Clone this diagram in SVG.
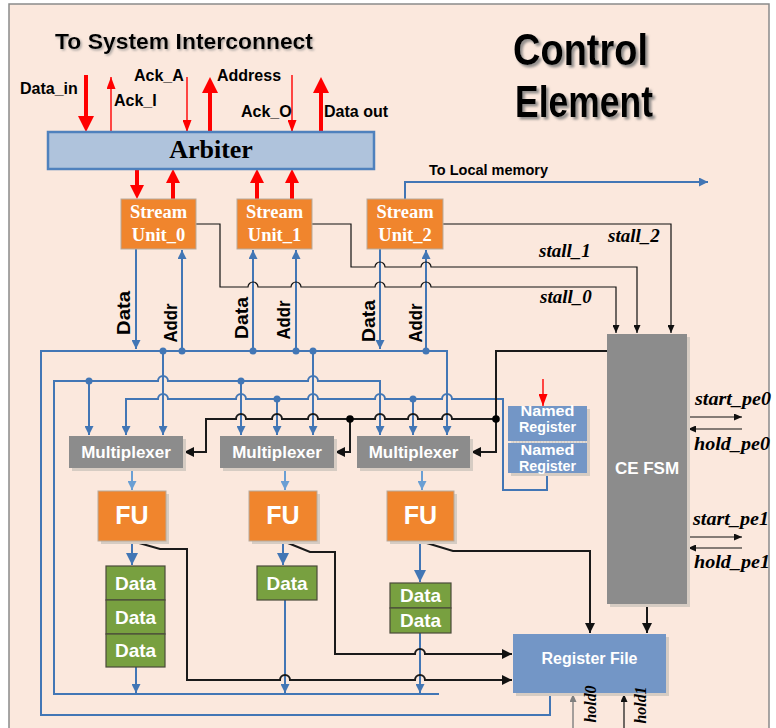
<svg xmlns="http://www.w3.org/2000/svg" width="776" height="728" viewBox="0 0 776 728">
<style>
.s{font-family:'Liberation Sans',Arial,sans-serif;font-weight:bold}
.r{font-family:'Liberation Serif','Times New Roman',serif;font-weight:bold}
.i{font-style:italic}
.w{fill:#fff}
.c{text-anchor:middle}
.bl{stroke:#4276B5;stroke-width:2;fill:none}
.lb{stroke:#6A9FD4;stroke-width:2;fill:none}
.k1{stroke:#111;stroke-width:1.2;fill:none}
.k2{stroke:#1a1a1a;stroke-width:2;fill:none}
.rt{stroke:#F00;stroke-width:4;fill:none}
.rn{stroke:#F00;stroke-width:1.4;fill:none}
.sh{fill:#D6CCC3}
.db{fill:#4276B5}
.dk{fill:#000}
.or{fill:#F0852D;stroke:#B8A99B;stroke-width:1}
.gy{fill:#8C8C8C}
.rg{fill:#7396C6}
.gr{fill:#78A040;stroke:#4A4A3A;stroke-width:1.2}
</style>
<defs>
<filter id="ds" x="-10%" y="-20%" width="125%" height="150%"><feDropShadow dx="2.5" dy="2.5" stdDeviation="1.2" flood-color="#777" flood-opacity="0.8"/></filter>
<filter id="ds2" x="-10%" y="-20%" width="125%" height="150%"><feDropShadow dx="1.5" dy="1.5" stdDeviation="0.8" flood-color="#888" flood-opacity="0.7"/></filter>
<marker id="mb" viewBox="0 0 10 10" refX="10" refY="5" markerWidth="9" markerHeight="9" markerUnits="userSpaceOnUse" orient="auto"><path d="M0,0L10,5L0,10z" fill="#4276B5"/></marker>
<marker id="mbB" viewBox="0 0 10 10" refX="10" refY="5" markerWidth="12" markerHeight="12" markerUnits="userSpaceOnUse" orient="auto"><path d="M0,0L10,5L0,10z" fill="#4276B5"/></marker>
<marker id="ml" viewBox="0 0 10 10" refX="10" refY="5" markerWidth="9" markerHeight="9" markerUnits="userSpaceOnUse" orient="auto"><path d="M0,0L10,5L0,10z" fill="#6A9FD4"/></marker>
<marker id="mk" viewBox="0 0 10 10" refX="10" refY="5" markerWidth="8" markerHeight="7" preserveAspectRatio="none" markerUnits="userSpaceOnUse" orient="auto"><path d="M0,0L10,5L0,10z" fill="#111"/></marker>
<marker id="mg" viewBox="0 0 10 10" refX="10" refY="5" markerWidth="8" markerHeight="7" preserveAspectRatio="none" markerUnits="userSpaceOnUse" orient="auto"><path d="M0,0L10,5L0,10z" fill="#7F7F7F"/></marker>
<marker id="mk2" viewBox="0 0 10 10" refX="10" refY="5" markerWidth="10" markerHeight="10" markerUnits="userSpaceOnUse" orient="auto"><path d="M0,0L10,5L0,10z" fill="#111"/></marker>
<marker id="mr" viewBox="0 0 16 16" refX="6" refY="8" markerWidth="16" markerHeight="16" markerUnits="userSpaceOnUse" orient="auto"><path d="M0,0L16,8L0,16z" fill="#F00"/></marker>
<marker id="mr2" viewBox="0 0 14 14" refX="4" refY="7" markerWidth="14" markerHeight="14" markerUnits="userSpaceOnUse" orient="auto"><path d="M0,0L14,7L0,14z" fill="#F00"/></marker>
<marker id="mrs" viewBox="0 0 10 10" refX="10" refY="5" markerWidth="12" markerHeight="9" preserveAspectRatio="none" markerUnits="userSpaceOnUse" orient="auto"><path d="M0,0L10,5L0,10z" fill="#F00"/></marker>
</defs>

<rect x="0" y="0" width="776" height="728" fill="#fff"/>
<rect x="9" y="4" width="760" height="740" fill="#FBE8DD" stroke="#8A8A8A" stroke-width="1.5"/>

<g id="title">
<text x="55" y="49" class="s" font-size="22" filter="url(#ds2)" textLength="258" lengthAdjust="spacingAndGlyphs">To System Interconnect</text>
<text x="513" y="65" class="s" font-size="44" filter="url(#ds)" textLength="135" lengthAdjust="spacingAndGlyphs">Control</text>
<text x="515" y="117" class="s" font-size="44" filter="url(#ds)" textLength="138" lengthAdjust="spacingAndGlyphs">Element</text>
</g>

<g id="connectors">
<!-- red interconnect arrows -->
<path class="rt" d="M86,75V122" marker-end="url(#mr)"/>
<path class="rt" d="M210,132V87" marker-end="url(#mr)"/>
<path class="rt" d="M321,132V87" marker-end="url(#mr)"/>
<path class="rn" d="M111,132V77" marker-end="url(#mrs)"/>
<path class="rn" d="M187,77V132" marker-end="url(#mrs)"/>
<path class="rn" d="M292,75V132" marker-end="url(#mrs)"/>
<path class="rt" d="M137,169V189" marker-end="url(#mr2)"/>
<path class="rt" d="M173,199V179" marker-end="url(#mr2)"/>
<path class="rt" d="M257,199V179" marker-end="url(#mr2)"/>
<path class="rt" d="M292,199V179" marker-end="url(#mr2)"/>
<path class="rn" d="M543,379V406" marker-end="url(#mrs)"/>

<!-- blue buses -->
<path class="bl" d="M550,693V715H41V351H447V435" marker-end="url(#mb)"/>
<path class="bl" d="M439,694H54V381H158A5,5 0 0 1 168,381H308A5,5 0 0 1 318,381H380V435" marker-end="url(#mb)"/>
<path class="bl" d="M547,473V490H503V399H452A5,5 0 0 0 442,399H385A5,5 0 0 0 375,399H318A5,5 0 0 0 308,399H246A5,5 0 0 0 236,399H168A5,5 0 0 0 158,399H126V435" marker-end="url(#mb)"/>
<path class="bl" d="M89,381V435" marker-end="url(#mb)"/>
<path class="bl" d="M163,351V435" marker-end="url(#mb)"/>
<path class="bl" d="M241,381V435" marker-end="url(#mb)"/>
<path class="bl" d="M277,399V435" marker-end="url(#mb)"/>
<path class="bl" d="M313,351V435" marker-end="url(#mb)"/>
<path class="bl" d="M413,399V435" marker-end="url(#mb)"/>
<circle class="db" cx="89" cy="381" r="3.5"/>
<circle class="db" cx="163" cy="351" r="3.5"/>
<circle class="db" cx="241" cy="381" r="3.5"/>
<circle class="db" cx="277" cy="399" r="3.5"/>
<circle class="db" cx="313" cy="351" r="3.5"/>
<circle class="db" cx="413" cy="399" r="3.5"/>

<!-- stream unit data/addr -->
<path class="bl" d="M136,249V349" marker-end="url(#mb)"/>
<path class="bl" d="M182,351V250" marker-end="url(#mb)"/>
<path class="bl" d="M253,351V250" marker-end="url(#mb)"/>
<path class="bl" d="M296,351V250" marker-end="url(#mb)"/>
<path class="bl" d="M380,249V349" marker-end="url(#mb)"/>
<path class="bl" d="M426,351V250" marker-end="url(#mb)"/>
<circle class="db" cx="182" cy="351" r="3.5"/>
<circle class="db" cx="253" cy="351" r="3.5"/>
<circle class="db" cx="296" cy="351" r="3.5"/>
<circle class="db" cx="426" cy="351" r="3.5"/>
<path class="bl" d="M405,199V182H708" marker-end="url(#mb)"/>

<!-- mux to FU, FU to data, data to loop -->
<path class="lb" d="M132,468V490" marker-end="url(#ml)"/>
<path class="lb" d="M285,468V490" marker-end="url(#ml)"/>
<path class="lb" d="M422,468V490" marker-end="url(#ml)"/>
<path class="bl" d="M132,541V565" marker-end="url(#mbB)"/>
<path class="bl" d="M283,541V565" marker-end="url(#mbB)"/>
<path class="bl" d="M420,541V582" marker-end="url(#mbB)"/>
<path class="bl" d="M136,667V693" marker-end="url(#mb)"/>
<path class="bl" d="M285,600V693" marker-end="url(#mb)"/>
<path class="bl" d="M420,633V693" marker-end="url(#mb)"/>

<!-- stall lines -->
<path class="k1" d="M443,224H671V333" marker-end="url(#mk)"/>
<path class="k1" d="M312,224H351V267H375A5,5 0 0 1 385,267H421A5,5 0 0 1 431,267H637V333" marker-end="url(#mk)"/>
<path class="k1" d="M196,224H220V287H248A5,5 0 0 1 258,287H291A5,5 0 0 1 301,287H375A5,5 0 0 1 385,287H421A5,5 0 0 1 431,287H616V333" marker-end="url(#mk)"/>

<!-- CE FSM control to multiplexers -->
<path class="k2" d="M608,351H496V452H471" marker-end="url(#mk2)"/>
<path class="k2" d="M496,419H452A5,5 0 0 0 442,419H418A5,5 0 0 0 408,419H385A5,5 0 0 0 375,419H318A5,5 0 0 0 308,419H282A5,5 0 0 0 272,419H246A5,5 0 0 0 236,419H206V452H184" marker-end="url(#mk2)"/>
<path class="k2" d="M350,419V452H335" marker-end="url(#mk2)"/>
<circle class="dk" cx="496" cy="419" r="3.8"/>
<circle class="dk" cx="350" cy="419" r="3.8"/>

<!-- FU to register file -->
<path class="k2" d="M132,541L160,549H187V680H280A5,5 0 0 1 290,680H415A5,5 0 0 1 425,680H512" marker-end="url(#mk2)"/>
<path class="k2" d="M283,541L310,552H335V654H415A5,5 0 0 1 425,654H512" marker-end="url(#mk2)"/>
<path class="k2" d="M420,541L453,551H590V633" marker-end="url(#mk2)"/>
<path class="k2" d="M647,604V633" stroke-width="2.5" marker-end="url(#mk2)"/>

<!-- CE FSM external signals -->
<path class="k1" d="M687,417H742" marker-end="url(#mk)"/>
<path class="k1" d="M742,429H688" marker-end="url(#mk)"/>
<path class="k1" d="M687,537H742" marker-end="url(#mk)"/>
<path class="k1" d="M742,548H688" marker-end="url(#mk)"/>
<path d="M573,728V694" stroke="#7F7F7F" stroke-width="1.4" marker-end="url(#mg)"/>
<path class="k1" d="M624,728V694" marker-end="url(#mk)"/>
</g>

<g id="arbiter">
<rect x="48" y="132" width="326" height="37" fill="#AFC3DC" stroke="#4F81BD" stroke-width="2.5"/>
<text x="211" y="158" class="r c" font-size="26">Arbiter</text>
</g>

<g id="stream0">
<rect class="or" x="121" y="199" width="75" height="50"/>
<text x="158.5" y="218" class="r c w" font-size="18.5">Stream</text>
<text x="158.5" y="241" class="r c w" font-size="18.5">Unit_0</text>
</g>
<g id="stream1">
<rect class="or" x="237" y="199" width="75" height="50"/>
<text x="274.5" y="218" class="r c w" font-size="18.5">Stream</text>
<text x="274.5" y="241" class="r c w" font-size="18.5">Unit_1</text>
</g>
<g id="stream2">
<rect class="or" x="367" y="199" width="76" height="50"/>
<text x="405" y="218" class="r c w" font-size="18.5">Stream</text>
<text x="405" y="241" class="r c w" font-size="18.5">Unit_2</text>
</g>

<g id="mux0">
<rect class="sh" x="72" y="439" width="114" height="32"/>
<rect class="gy" x="69" y="436" width="114" height="32"/>
<text x="126" y="458" class="s c w" font-size="17">Multiplexer</text>
</g>
<g id="mux1">
<rect class="sh" x="223" y="439" width="114" height="32"/>
<rect class="gy" x="220" y="436" width="114" height="32"/>
<text x="277" y="458" class="s c w" font-size="17">Multiplexer</text>
</g>
<g id="mux2">
<rect class="sh" x="360" y="439" width="113" height="32"/>
<rect class="gy" x="357" y="436" width="113" height="32"/>
<text x="413.5" y="458" class="s c w" font-size="17">Multiplexer</text>
</g>

<g id="named-registers">
<rect class="sh" x="511" y="409" width="79" height="67"/>
<rect class="rg" x="508" y="406" width="79" height="35"/>
<rect class="rg" x="508" y="443" width="79" height="30"/>
<line x1="508" y1="442" x2="587" y2="442" stroke="#E8E8E8" stroke-width="1.2" stroke-dasharray="2,1"/>
<text x="547.5" y="416" class="s c w" font-size="15" textLength="54" lengthAdjust="spacingAndGlyphs">Named</text>
<text x="547.5" y="432" class="s c w" font-size="15" textLength="57" lengthAdjust="spacingAndGlyphs">Register</text>
<text x="547.5" y="455" class="s c w" font-size="15" textLength="54" lengthAdjust="spacingAndGlyphs">Named</text>
<text x="547.5" y="471" class="s c w" font-size="15" textLength="57" lengthAdjust="spacingAndGlyphs">Register</text>
</g>

<g id="ce-fsm">
<rect class="sh" x="610" y="337" width="80" height="270"/>
<rect class="gy" x="607" y="334" width="80" height="270"/>
<text x="647" y="474" class="s c w" font-size="17">CE FSM</text>
</g>

<g id="fu0">
<rect class="sh" x="101" y="494" width="68" height="50"/>
<rect class="or" x="98" y="491" width="68" height="50"/>
<text x="132" y="524" class="s c w" font-size="25">FU</text>
</g>
<g id="fu1">
<rect class="sh" x="252" y="494" width="68" height="50"/>
<rect class="or" x="249" y="491" width="68" height="50"/>
<text x="283" y="524" class="s c w" font-size="25">FU</text>
</g>
<g id="fu2">
<rect class="sh" x="390" y="494" width="67" height="50"/>
<rect class="or" x="387" y="491" width="67" height="50"/>
<text x="420.5" y="524" class="s c w" font-size="25">FU</text>
</g>

<g id="data0">
<rect class="gr" x="106" y="566" width="59" height="34"/>
<rect class="gr" x="106" y="600" width="59" height="34"/>
<rect class="gr" x="106" y="634" width="59" height="33"/>
<text x="135.5" y="590" class="s c w" font-size="19">Data</text>
<text x="135.5" y="624" class="s c w" font-size="19">Data</text>
<text x="135.5" y="657" class="s c w" font-size="19">Data</text>
</g>
<g id="data1">
<rect class="gr" x="257" y="566" width="60" height="34"/>
<text x="287" y="590" class="s c w" font-size="19">Data</text>
</g>
<g id="data2">
<rect class="gr" x="390" y="583" width="61" height="25"/>
<rect class="gr" x="390" y="608" width="61" height="25"/>
<text x="420.5" y="602" class="s c w" font-size="19">Data</text>
<text x="420.5" y="627" class="s c w" font-size="19">Data</text>
</g>

<g id="register-file">
<rect class="sh" x="516" y="637" width="153" height="59"/>
<rect class="rg" x="513" y="634" width="153" height="59"/>
<text x="589.5" y="664" class="s c w" font-size="16">Register File</text>
</g>

<g id="labels">
<text x="20" y="94" class="s" font-size="16">Data_in</text>
<text x="114" y="106" class="s" font-size="16">Ack_I</text>
<text x="134" y="81" class="s" font-size="16">Ack_A</text>
<text x="217" y="81" class="s" font-size="16">Address</text>
<text x="241" y="117" class="s" font-size="16">Ack_O</text>
<text x="324" y="117" class="s" font-size="16">Data out</text>
<text x="429" y="175" class="s" font-size="14.5">To Local memory</text>
<text x="608" y="242" class="r i" font-size="19">stall_2</text>
<text x="539" y="257" class="r i" font-size="19">stall_1</text>
<text x="540" y="303" class="r i" font-size="19">stall_0</text>
<text transform="translate(130,313) rotate(-90)" class="s c" font-size="19" textLength="44" lengthAdjust="spacingAndGlyphs">Data</text>
<text transform="translate(177,323) rotate(-90)" class="s c" font-size="19" textLength="39" lengthAdjust="spacingAndGlyphs">Addr</text>
<text transform="translate(248,318) rotate(-90)" class="s c" font-size="19" textLength="42" lengthAdjust="spacingAndGlyphs">Data</text>
<text transform="translate(290,320) rotate(-90)" class="s c" font-size="19" textLength="39" lengthAdjust="spacingAndGlyphs">Addr</text>
<text transform="translate(375,321) rotate(-90)" class="s c" font-size="19" textLength="42" lengthAdjust="spacingAndGlyphs">Data</text>
<text transform="translate(422,323) rotate(-90)" class="s c" font-size="19" textLength="39" lengthAdjust="spacingAndGlyphs">Addr</text>
<text x="695" y="405" class="r i" font-size="19" textLength="76" lengthAdjust="spacingAndGlyphs">start_pe0</text>
<text x="694" y="450" class="r i" font-size="19" textLength="76" lengthAdjust="spacingAndGlyphs">hold_pe0</text>
<text x="693" y="525" class="r i" font-size="19" textLength="76" lengthAdjust="spacingAndGlyphs">start_pe1</text>
<text x="694" y="568" class="r i" font-size="19" textLength="76" lengthAdjust="spacingAndGlyphs">hold_pe1</text>
<text transform="translate(596,704) rotate(-90)" class="r i c" font-size="16" textLength="37" lengthAdjust="spacingAndGlyphs">hold0</text>
<text transform="translate(646,705) rotate(-90)" class="r i c" font-size="16" textLength="37" lengthAdjust="spacingAndGlyphs">hold1</text>
</g>
</svg>
